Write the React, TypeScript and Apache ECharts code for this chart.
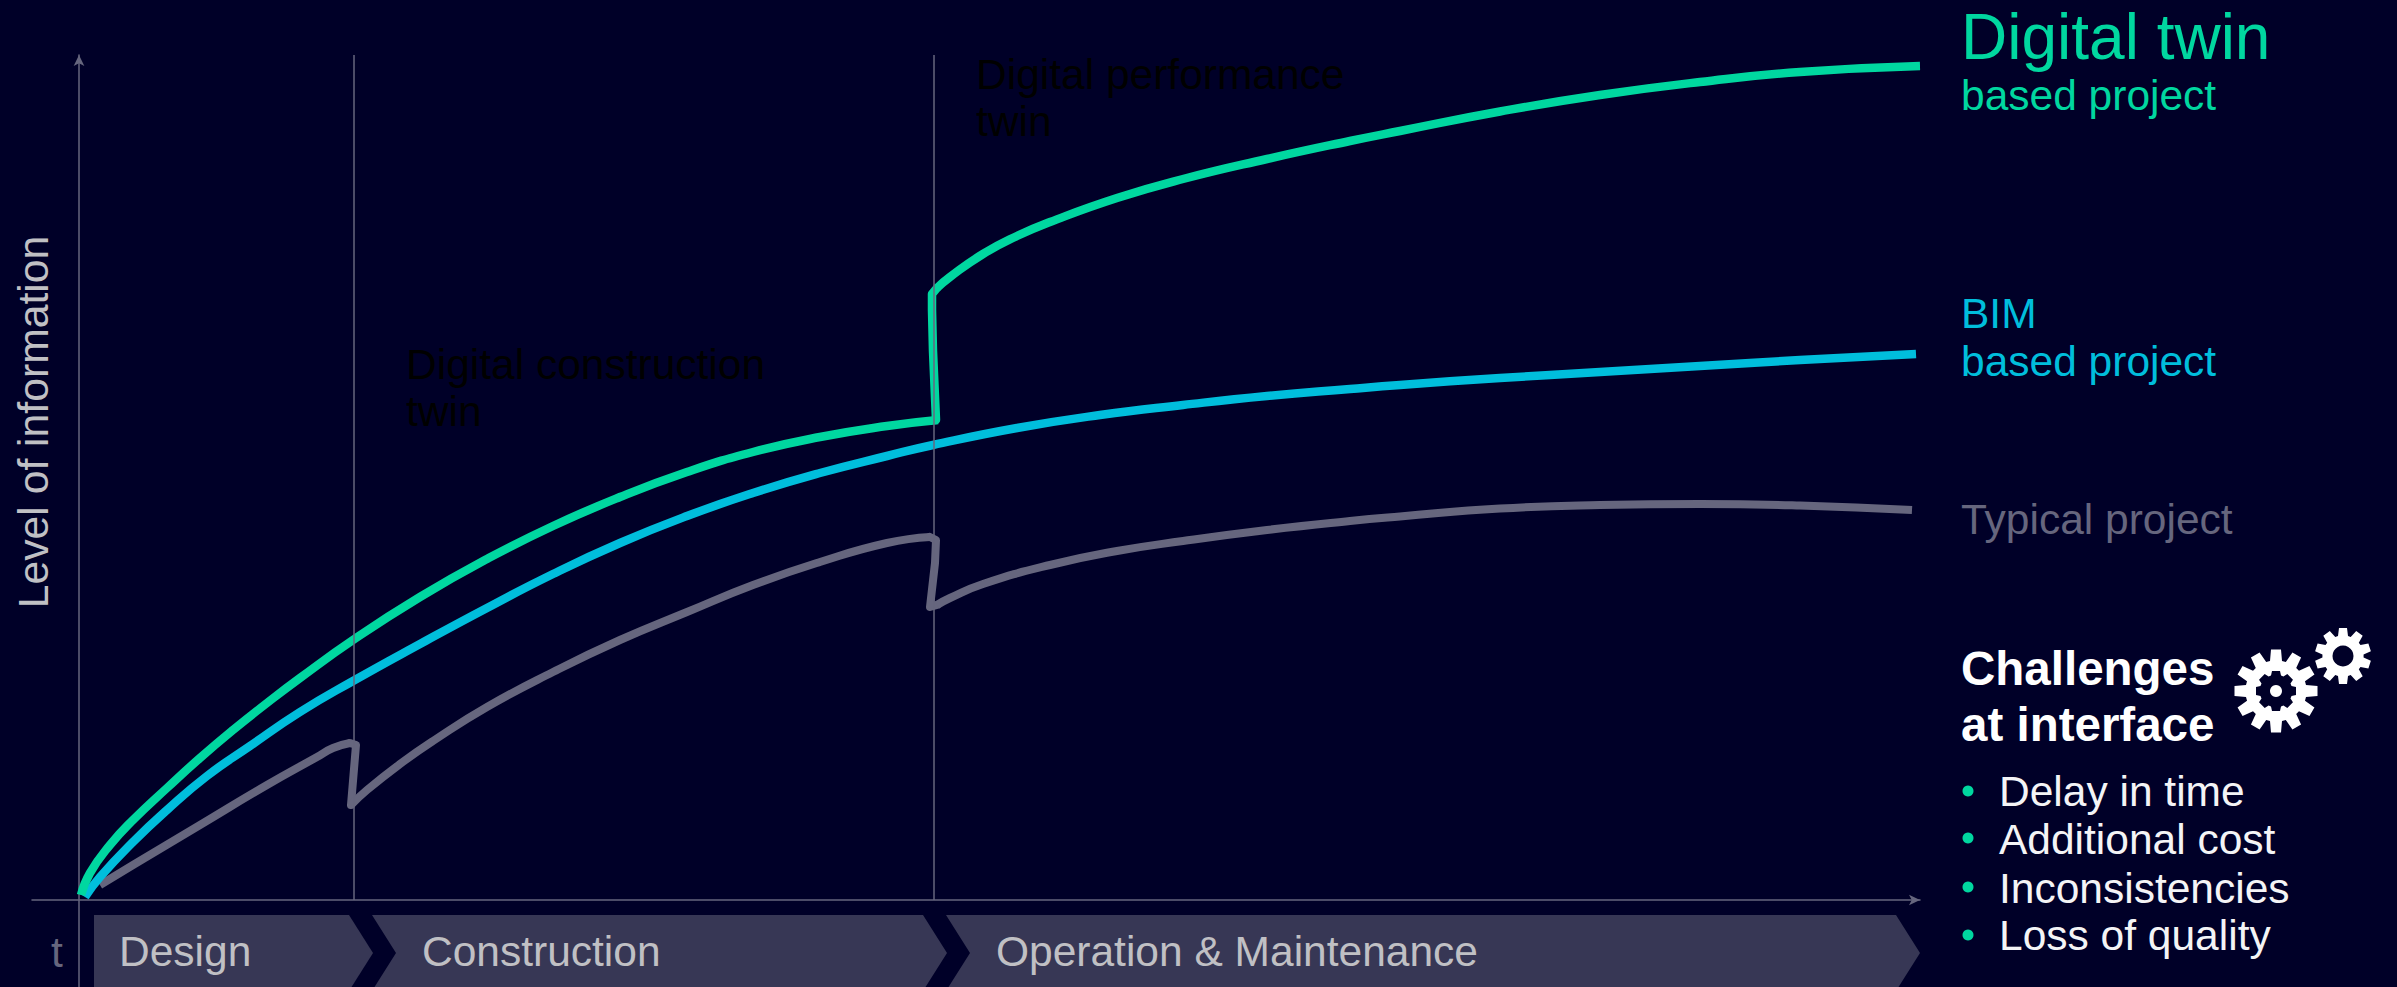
import React, { useEffect, useRef } from "react";
import * as echarts from "echarts";

const digitalTwinRise = [[2,5],[11,27],[31,55],[54,80],[88,112],[121,142],[154,170],[188,197],[221,222],[274,260],[341,303],[408,341],[474,374],[541,403],[608,428],[674,448],[741,463],[808,474],[859,480]];
const digitalTwinJump = [[857,480],[854,549],[853,590],[853,606],[858,612]];
const digitalTwinOperate = [[858,612],[871,623],[904,646],[938,664],[971,678],[1038,702],[1104,721],[1188,741],[1271,759],[1321,769],[1421,788.5],[1521,805],[1621,818],[1721,828],[1841,834]];
const bimProject = [[6,3],[21,23],[54,58],[88,90],[128,124],[171,154],[221,188],[274,219],[341,256],[408,292],[474,326],[541,357],[608,384],[674,407],[741,427],[808,444],[854,455],[938,472],[1021,485],[1104,495],[1188,504],[1271,511],[1321,515],[1421,522],[1521,528],[1621,534],[1721,540],[1837,546]];
const typicalDesign = [[21,15],[54,35],[121,75],[188,115],[238,143],[254,152],[271,157]];
const typicalDrop1 = [[271,157],[277,155],[272,95]];
const typicalConstruct = [[272,95],[288,110],[321,136],[354,159],[408,193],[474,228],[541,260],[608,288],[674,315],[741,338],[808,357],[851,363]];
const typicalDrop2 = [[851,363],[857,360],[856,337],[851,293],[858,295]];
const typicalOperate = [[858,295],[871,302],[904,316],[971,335],[1038,349],[1104,359],[1188,370],[1271,379],[1321,383.5],[1421,391.5],[1521,395],[1621,396],[1721,394.5],[1833,390]];
const dividers = [275, 855];
const stages = ["Design", "Construction", "Operation & Maintenance"];
const stageStart = [15, 293, 867];
const stageEnd = [270, 844, 1817];
const stageTextInset = [25, 50, 50];
const challenges = ["Delay in time", "Additional cost", "Inconsistencies", "Loss of quality"];

const BG = "#000028";
const GREEN = "#00D7A0";
const BLUE = "#00BEDC";
const GREY = "#66667E";
const PANEL = "#373755";
const LIGHT = "#C0C0C4";
const FONT = "Liberation Sans";

function label(text: string, x: number, baseline: number, size: number, fill: string, weight = "normal") {
  return {
    type: "text", x, y: baseline - 0.3465 * size, silent: true,
    style: { text, fill, fontFamily: FONT, fontSize: size, fontWeight: weight, align: "left", verticalAlign: "middle", lineHeight: size },
  };
}

function gearPoints(cx: number, cy: number, teeth: number, outer: number, root: number, width: number) {
  const pts: number[][] = [];
  for (let i = 0; i < teeth; i++) {
    const a = -Math.PI / 2 + (i * 2 * Math.PI) / teeth;
    const c = Math.cos(a), s = Math.sin(a);
    const at = (r: number, w: number) => [cx + r * c - w * s, cy + r * s + w * c];
    pts.push(at(root, -width / 2 - 1), at(outer, -width / 2), at(outer, width / 2), at(root, width / 2 + 1));
  }
  return pts;
}

function renderStage(params: any, api: any) {
  const i = params.dataIndex;
  const x0 = api.value(0), x1 = api.value(1);
  const P = (x: number, y: number) => api.coord([x, -y - 15]);
  const tip = 24;
  const h = 38;
  const pts = [P(x0, 0), P(x1, 0), P(x1 + tip, h), P(x1, 2 * h), P(x0, 2 * h)];
  if (i > 0) pts.push(P(x0 + tip, h));
  const tx = api.coord([stageStart[i] + stageTextInset[i], 0])[0];
  const ty = api.coord([0, -66])[1];
  return {
    type: "group",
    children: [
      { type: "polygon", shape: { points: pts }, style: { fill: PANEL } },
      { type: "text", x: tx, y: ty - 0.3465 * 42.5, style: { text: stages[i], fill: LIGHT, fontFamily: FONT, fontSize: 42.5, align: "left", verticalAlign: "middle", lineHeight: 42.5 } },
    ],
  };
}

const curve = (name: string, data: number[][], color: string, width: number) => ({
  name, type: "line", data, showSymbol: false, symbol: "none", smooth: 0.5, z: 3,
  lineStyle: { color, width, cap: "butt", join: "round" },
});
const connector = (name: string, data: number[][], color: string, width: number) => ({
  name, type: "line", data, showSymbol: false, symbol: "none", smooth: false, z: 3,
  lineStyle: { color, width, cap: "round", join: "round" },
});

export default function App() {
  const ref = useRef<HTMLDivElement>(null);
  useEffect(() => {
    const chart = echarts.init(ref.current!, undefined, { renderer: "svg" });
    const axisLine = { show: true, onZero: true, symbol: ["none", "arrow"], symbolSize: [8, 11], lineStyle: { color: GREY, width: 1.5 } };
    chart.setOption({
      animation: false,
      backgroundColor: BG,
      grid: { left: 32, right: 477, top: 55, bottom: 0, containLabel: false },
      xAxis: { type: "value", min: -47, max: 1841, axisLine, axisTick: { show: false }, axisLabel: { show: false }, splitLine: { show: false } },
      yAxis: { type: "value", min: -87, max: 845, axisLine, axisTick: { show: false }, axisLabel: { show: false }, splitLine: { show: false } },
      series: [
        {
          type: "line", data: [], symbol: "none", z: 1,
          markLine: {
            silent: true, symbol: "none", label: { show: false },
            lineStyle: { color: GREY, width: 1.5, type: "solid" },
            data: dividers.map((d) => [{ coord: [d, 0] }, { coord: [d, 845] }]),
          },
        },
        {
          type: "custom", renderItem: renderStage, z: 2, silent: true, clip: false,
          data: stages.map((_, i) => [stageStart[i], stageEnd[i]]),
          encode: { x: [0, 1] },
        },
        curve("Typical project", typicalDesign, GREY, 8),
        connector("Typical project", typicalDrop1, GREY, 8),
        curve("Typical project", typicalConstruct, GREY, 8),
        connector("Typical project", typicalDrop2, GREY, 8),
        curve("Typical project", typicalOperate, GREY, 8),
        curve("BIM based project", bimProject, BLUE, 8.5),
        curve("Digital twin based project", digitalTwinRise, GREEN, 8.5),
        connector("Digital twin based project", digitalTwinJump, GREEN, 8.5),
        curve("Digital twin based project", digitalTwinOperate, GREEN, 8.5),
      ],
      graphic: [
        label("Digital twin", 1961, 59, 64, GREEN),
        label("based project", 1961, 110, 42.5, GREEN),
        label("BIM", 1961, 328, 42.5, BLUE),
        label("based project", 1961, 376, 42.5, BLUE),
        label("Typical project", 1961, 534, 42.5, GREY),
        label("Challenges", 1961, 685, 47.5, "#FFFFFF", "bold"),
        label("at interface", 1961, 741, 47.5, "#FFFFFF", "bold"),
        ...challenges.map((c, i) => label(c, 1999, [806, 854, 903, 950][i], 42.5, "#F4F4F6")),
        ...challenges.map((_, i) => ({ type: "circle", silent: true, shape: { cx: 1968, cy: [791, 838, 887, 935][i], r: 5.5 }, style: { fill: GREEN } })),
        label("t", 51, 967, 42.5, GREY),
        label("Digital performance", 976, 89, 42.5, "#000000"),
        label("twin", 976, 136, 42.5, "#000000"),
        label("Digital construction", 406, 379, 42.5, "#000000"),
        label("twin", 406, 426, 42.5, "#000000"),
        {
          type: "text", x: 33, y: 422, rotation: Math.PI / 2, silent: true,
          style: { text: "Level of information", fill: LIGHT, fontFamily: FONT, fontSize: 42.7, align: "center", verticalAlign: "middle", lineHeight: 42.7 },
        },
        { type: "polygon", silent: true, shape: { points: gearPoints(2276, 691, 12, 41.5, 30, 10) }, style: { fill: "#FFFFFF" } },
        { type: "polygon", silent: true, shape: { points: gearPoints(2276, 691, 8, 20, 15.5, 8) }, style: { fill: BG } },
        { type: "circle", silent: true, shape: { cx: 2276, cy: 691, r: 6 }, style: { fill: "#FFFFFF" } },
        { type: "polygon", silent: true, shape: { points: gearPoints(2343, 656, 10, 28, 20, 8) }, style: { fill: "#FFFFFF" } },
        { type: "circle", silent: true, shape: { cx: 2343, cy: 656, r: 10.5 }, style: { fill: BG } },
      ],
    });
    return () => chart.dispose();
  }, []);
  return <div ref={ref} style={{ position: "absolute", left: 0, top: 0, width: 2397, height: 987 }} />;
}
